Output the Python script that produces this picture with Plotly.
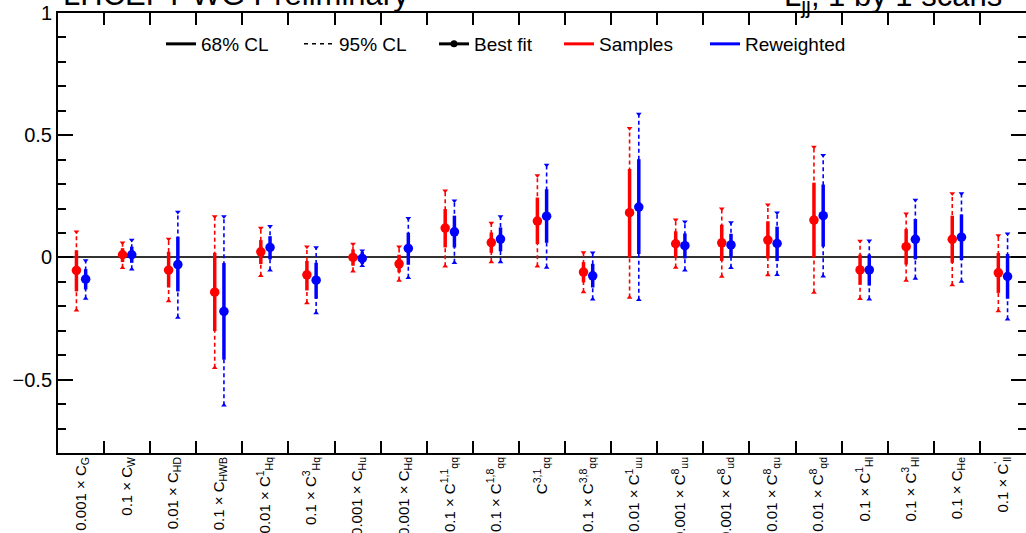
import plotly.graph_objects as go

# ---------------- data ----------------
labels = [
    "0.001 × C<sub>G</sub>", "0.1 × C<sub>W</sub>", "0.01 × C<sub>HD</sub>", "0.1 × C<sub>HWB</sub>",
    "0.01 × C<sup>1</sup><sub>Hq</sub>", "0.1 × C<sup>3</sup><sub>Hq</sub>", "0.001 × C<sub>Hu</sub>",
    "0.001 × C<sub>Hd</sub>", "0.1 × C<sup>1,1</sup><sub>qq</sub>", "0.1 × C<sup>1,8</sup><sub>qq</sub>",
    "C<sup>3,1</sup><sub>qq</sub>", "0.1 × C<sup>3,8</sup><sub>qq</sub>", "0.01 × C<sup>1</sup><sub>uu</sub>",
    "0.001 × C<sup>8</sup><sub>uu</sub>", "0.001 × C<sup>8</sup><sub>ud</sub>", "0.01 × C<sup>8</sup><sub>qu</sub>",
    "0.01 × C<sup>8</sup><sub>qd</sub>", "0.1 × C<sup>1</sup><sub>Hl</sub>", "0.1 × C<sup>3</sup><sub>Hl</sub>",
    "0.1 × C<sub>He</sub>", "0.1 × C<sup>'</sup><sub>ll</sub>",
]

samples_best = [-0.053, 0.011, -0.052, -0.142, 0.023, -0.071, 0.000, -0.026, 0.120, 0.061, 0.149,
                -0.060, 0.183, 0.056, 0.060, 0.071, 0.153, -0.051, 0.044, 0.074, -0.063]
samples_lo68 = [-0.139, -0.019, -0.123, -0.301, -0.027, -0.135, -0.034, -0.061, 0.041, 0.019, 0.055,
                -0.102, 0.000, 0.001, -0.014, -0.004, 0.000, -0.112, -0.029, -0.022, -0.145]
samples_hi68 = [0.029, 0.038, 0.023, 0.019, 0.071, -0.014, 0.033, 0.011, 0.198, 0.102, 0.245,
                -0.019, 0.362, 0.107, 0.134, 0.148, 0.306, 0.012, 0.116, 0.171, 0.018]
samples_lo95 = [-0.216, -0.042, -0.178, -0.451, -0.075, -0.186, -0.056, -0.094, -0.036, -0.019, -0.036,
                -0.141, -0.164, -0.041, -0.078, -0.072, -0.143, -0.169, -0.094, -0.113, -0.219]
samples_hi95 = [0.105, 0.060, 0.075, 0.167, 0.120, 0.044, 0.055, 0.044, 0.273, 0.141, 0.335,
                0.020, 0.529, 0.154, 0.199, 0.216, 0.452, 0.067, 0.179, 0.262, 0.090]

reweighted_best = [-0.089, 0.011, -0.029, -0.221, 0.041, -0.093, -0.004, 0.037, 0.105, 0.075, 0.169,
                   -0.075, 0.206, 0.048, 0.051, 0.057, 0.171, -0.051, 0.074, 0.083, -0.078]
reweighted_lo68 = [-0.131, -0.022, -0.139, -0.418, -0.008, -0.169, -0.027, -0.030, 0.041, 0.025, 0.060,
                   -0.123, 0.014, -0.004, 0.003, -0.015, 0.044, -0.115, -0.008, -0.011, -0.169]
reweighted_hi68 = [-0.048, 0.044, 0.085, -0.023, 0.087, -0.022, 0.022, 0.101, 0.171, 0.123, 0.279,
                   -0.026, 0.402, 0.098, 0.097, 0.126, 0.298, 0.012, 0.157, 0.176, 0.014]
reweighted_lo95 = [-0.168, -0.048, -0.246, -0.605, -0.052, -0.227, -0.034, -0.083, -0.022, -0.019, -0.041,
                   -0.171, -0.173, -0.052, -0.042, -0.071, -0.077, -0.171, -0.086, -0.098, -0.253]
reweighted_hi95 = [-0.012, 0.071, 0.186, 0.167, 0.128, 0.041, 0.027, 0.160, 0.232, 0.167, 0.378,
                   0.019, 0.587, 0.146, 0.143, 0.183, 0.418, 0.068, 0.235, 0.262, 0.097]

series = [
    ("Samples", "#ff0000", -0.1, samples_best, samples_lo68, samples_hi68, samples_lo95, samples_hi95),
    ("Reweighted", "#0000ff", 0.1, reweighted_best, reweighted_lo68, reweighted_hi68, reweighted_lo95, reweighted_hi95),
]

FONT = "Liberation Sans, Arial, Helvetica, sans-serif"
n = len(labels)
W, H = 1026, 533
ML, MR, MT, MB = 58, 0, 13, 80

fig = go.Figure()


def segs(xs, lo, hi):
    X, Y = [], []
    for x, a, b in zip(xs, lo, hi):
        X += [x, x, None]
        Y += [a, b, None]
    return X, Y


for name, col, off, best, lo68, hi68, lo95, hi95 in series:
    xs = [i + off for i in range(n)]
    X, Y = segs(xs, lo95, hi95)
    fig.add_trace(go.Scatter(x=X, y=Y, mode="lines", line=dict(color=col, width=1.6, dash="4px,3px"),
                             showlegend=False, hoverinfo="skip"))
    fig.add_trace(go.Scatter(x=xs, y=hi95, mode="markers", marker=dict(symbol="triangle-down", size=5, color=col),
                             showlegend=False, hoverinfo="skip"))
    fig.add_trace(go.Scatter(x=xs, y=lo95, mode="markers", marker=dict(symbol="triangle-up", size=5, color=col),
                             showlegend=False, hoverinfo="skip"))
    X, Y = segs(xs, lo68, hi68)
    fig.add_trace(go.Scatter(x=X, y=Y, mode="lines", line=dict(color=col, width=3.5),
                             showlegend=False, hoverinfo="skip"))
    fig.add_trace(go.Scatter(x=xs, y=best, mode="markers", marker=dict(symbol="circle", size=9.5, color=col),
                             showlegend=False, name=name))

# legend-only entries, each in its own legend box (text start x in pixels)
leg = [
    ("68% CL", dict(color="black", width=3), "lines", None, 199),
    ("95% CL", dict(color="black", width=1.5, dash="4px,4px"), "lines", None, 337),
    ("Best fit", dict(color="black", width=3), "lines+markers", dict(size=7, color="black"), 472),
    ("Samples", dict(color="#ff0000", width=3), "lines", None, 597),
    ("Reweighted", dict(color="#0000ff", width=3), "lines", None, 743),
]
pw = W - ML - MR
ph = H - MT - MB
legend_layouts = {}
for k, (nm, ln, md, mk, tx) in enumerate(leg):
    lname = "legend" if k == 0 else f"legend{k + 1}"
    kw = dict(x=[None], y=[None], mode=md, line=ln, name=nm, xaxis="x2", showlegend=True, legend=lname)
    if mk:
        kw["marker"] = mk
    fig.add_trace(go.Scatter(**kw))
    legend_layouts[lname] = dict(
        orientation="h", x=(tx - 38 - ML) / pw, xanchor="left",
        y=1 - (44 - MT) / ph, yanchor="middle",
        font=dict(size=19, family=FONT, color="black"), bgcolor="rgba(0,0,0,0)", itemwidth=30)

fig.update_layout(
    width=W, height=H,
    margin=dict(l=ML, r=MR, t=MT, b=MB, autoexpand=False),
    paper_bgcolor="white", plot_bgcolor="white",
    font=dict(family=FONT, color="black"),
    showlegend=True,
    xaxis=dict(range=[-0.5, n - 0.5], tickmode="array", tickvals=[i - 0.5 for i in range(n + 1)],
               showticklabels=False, ticks="inside", ticklen=12, tickwidth=1.5, tickcolor="black",
               showline=True, linecolor="black", linewidth=2, mirror="ticks", showgrid=False, zeroline=False),
    xaxis2=dict(range=[-0.5, n - 0.5], overlaying="x", side="bottom", anchor="y", tickmode="array",
                tickvals=list(range(n)), ticktext=labels, tickangle=-90, ticks="", showline=False,
                showgrid=False, zeroline=False, automargin=False, ticklabelstandoff=0,
                tickfont=dict(size=15, family=FONT, color="black")),
    yaxis=dict(range=[-0.8, 1.0], tickmode="array", tickvals=[-0.5, 0, 0.5, 1],
               ticktext=["−0.5", "0", "0.5", "1"], ticks="inside", ticklen=15, tickwidth=1.5,
               tickcolor="black", showline=True, linecolor="black", linewidth=2, mirror="ticks",
               showgrid=False, zeroline=True, zerolinecolor="#333333", zerolinewidth=2,
               tickfont=dict(size=20, family=FONT, color="black"), automargin=False,
               minor=dict(tickmode="linear", tick0=0, dtick=0.1, ticks="inside", ticklen=8,
                          tickwidth=1.5, tickcolor="black")),
    **legend_layouts,
)

fig.add_annotation(text="LHCEFT WG Preliminary", xref="paper", yref="paper", x=(62 - ML) / pw,
                   y=1.0, xanchor="left", yanchor="bottom", showarrow=False, borderpad=0,
                   font=dict(size=31, family=FONT, color="black"))
fig.add_annotation(text="L<sub>jj</sub>, 1 by 1 scans", xref="paper", yref="paper",
                   x=(783 - ML) / pw, y=1 - 6 / ph, xanchor="left", yanchor="bottom", showarrow=False,
                   borderpad=0, font=dict(size=31, family=FONT, color="black"))

fig.write_html("out.html", config={"displayModeBar": False},
               post_script="document.body.style.margin='0';")
